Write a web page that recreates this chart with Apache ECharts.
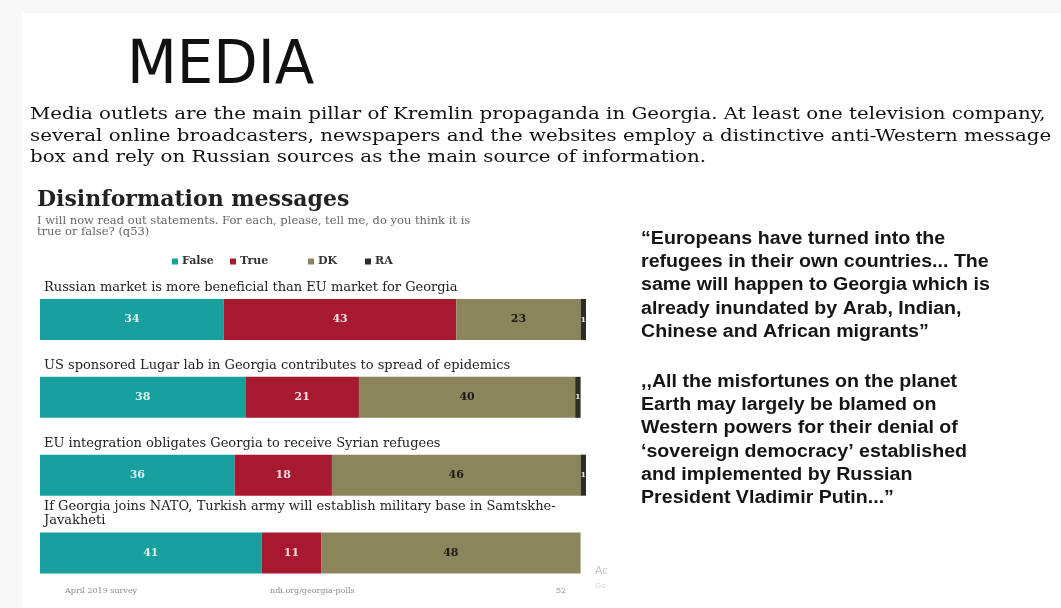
<!DOCTYPE html>
<html>
<head>
<meta charset="utf-8">
<script src="https://cdn.jsdelivr.net/npm/echarts@6/dist/echarts.min.js"></script>
<style>
  html, body { margin: 0; padding: 0; background: #f8f8f8; }
  #chart { width: 1061px; height: 608px; }
</style>
</head>
<body>
<div id="chart"></div>
<script>
// statements (category axis), top to bottom
const statements = [
    'Russian market is more beneficial than EU market for Georgia',
    'US sponsored Lugar lab in Georgia contributes to spread of epidemics',
    'EU integration obligates Georgia to receive Syrian refugees',
    'If Georgia joins NATO, Turkish army will establish military base in Samtskhe-\nJavakheti'
];
const answers = ['False', 'True', 'DK', 'RA'];
const falseVals = [34, 38, 36, 41];
const trueVals = [43, 21, 18, 11];
const dkVals = [23, 40, 46, 48];
const raVals = [1, 1, 1, 0];

const colors = {
    False: '#17a09e',
    True: '#a6192e',
    DK: '#8b855c',
    RA: '#2d2d22'
};
const labelColors = {
    False: '#d9f0ee',
    True: '#f6dde0',
    DK: '#1b1b14',
    RA: '#e8e8e0'
};

const serif = '"DejaVu Serif", serif';
const valuesBy = { False: falseVals, True: trueVals, DK: dkVals, RA: raVals };

const myChart = echarts.init(document.getElementById('chart'));

// legend positions follow the original layout
const legendLeft = [167, 225, 303, 360];

const option = {
    backgroundColor: '#f8f8f8',
    animation: false,
    graphic: [
        { type: 'rect', left: 22, top: 13, shape: { width: 1039, height: 595 }, style: { fill: '#ffffff' }, silent: true, z: -10 },
        {
            type: 'text', x: 127, y: 37, scaleX: 1.07,
            style: { text: 'MEDIA', font: '60px "Liberation Sans Narrow", "DejaVu Sans Condensed", "Liberation Sans", sans-serif', fill: '#111' }
        },
        {
            type: 'text', x: 30, y: 104, scaleX: 1.165,
            style: {
                text: 'Media outlets are the main pillar of Kremlin propaganda in Georgia. At least one television company,\n' +
                      'several online broadcasters, newspapers and the websites employ a distinctive anti-Western message\n' +
                      'box and rely on Russian sources as the main source of information.',
                font: '17px "DejaVu Serif", serif',
                lineHeight: 21.5,
                fill: '#111'
            }
        },
        {
            type: 'text', left: 37, top: 189,
            style: { text: 'Disinformation messages', font: 'bold 22px ' + serif, fill: '#222' }
        },
        {
            type: 'text', left: 37, top: 215,
            style: {
                text: 'I will now read out statements. For each, please, tell me, do you think it is\ntrue or false? (q53)',
                font: '11.5px ' + serif, lineHeight: 11.5, fill: '#666'
            }
        },
        {
            type: 'text', x: 641, y: 227, scaleX: 1.09,
            style: {
                text: '\u201cEuropeans have turned into the\nrefugees in their own countries... The\nsame will happen to Georgia which is\nalready inundated by Arab, Indian,\nChinese and African migrants\u201d',
                font: 'bold 18px "Liberation Sans", Arial, sans-serif', lineHeight: 23.3, fill: '#151515'
            }
        },
        {
            type: 'text', x: 641, y: 370, scaleX: 1.09,
            style: {
                text: ',,All the misfortunes on the planet\nEarth may largely be blamed on\nWestern powers for their denial of\n\u2018sovereign democracy\u2019 established\nand implemented by Russian\nPresident Vladimir Putin...\u201d',
                font: 'bold 18px "Liberation Sans", Arial, sans-serif', lineHeight: 23.3, fill: '#151515'
            }
        },
        { type: 'text', left: 65, top: 587, style: { text: 'April 2019 survey', font: '8px ' + serif, fill: '#8a8a8a' } },
        { type: 'text', left: 270, top: 587, style: { text: 'ndi.org/georgia-polls', font: '8px ' + serif, fill: '#8a8a8a' } },
        { type: 'text', left: 556, top: 587, style: { text: '52', font: '8px ' + serif, fill: '#8a8a8a' } },
        { type: 'text', left: 595, top: 565, style: { text: 'Ac', font: '11px "Liberation Sans", sans-serif', fill: '#c8c8c8' } },
        { type: 'text', left: 595, top: 582, style: { text: 'Go', font: '8px "Liberation Sans", sans-serif', fill: '#d0d0d0' } }
    ],
    legend: answers.map((a, i) => ({
        data: [a],
        left: legendLeft[i],
        top: 251,
        icon: 'rect',
        itemWidth: 6,
        itemHeight: 6,
        itemGap: 0,
        selectedMode: false,
        textStyle: { fontFamily: serif, fontWeight: 'bold', fontSize: 11, color: '#333', padding: [0, 0, 0, -1] }
    })),
    grid: { left: 40, right: 475, top: 280.5, bottom: 16 },
    xAxis: { type: 'value', min: 0, max: 101, show: false },
    yAxis: {
        type: 'category',
        inverse: true,
        data: statements,
        axisLine: { show: false },
        axisTick: { show: false },
        axisLabel: {
            inside: true,
            interval: 0,
            margin: 4,
            align: 'left',
            verticalAlign: 'bottom',
            padding: [0, 0, 25, 0],
            fontFamily: serif,
            fontSize: 13,
            lineHeight: 14,
            color: '#222'
        }
    },
    series: answers.map(a => ({
        name: a,
        type: 'bar',
        stack: 'total',
        barWidth: 41,
        data: valuesBy[a],
        itemStyle: { color: colors[a] },
        label: {
            show: true,
            position: 'inside',
            formatter: p => (p.value > 0 ? p.value : ''),
            fontFamily: serif,
            fontWeight: 'bold',
            fontSize: a === 'RA' ? 8 : 11,
            color: labelColors[a]
        }
    }))
};

myChart.setOption(option);
</script>
</body>
</html>
